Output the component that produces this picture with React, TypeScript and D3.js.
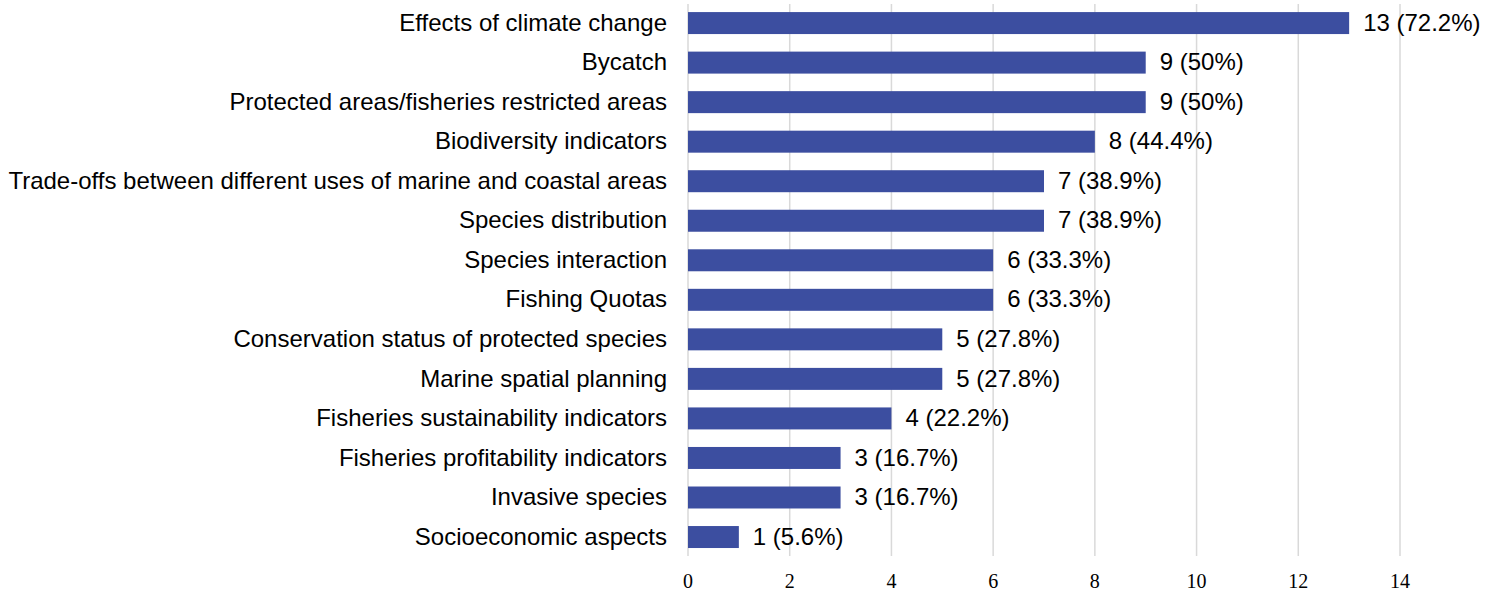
import React from "react";
import * as d3 from "d3";

const categories = [
  "Effects of climate change",
  "Bycatch",
  "Protected areas/fisheries restricted areas",
  "Biodiversity indicators",
  "Trade-offs between different uses of marine and coastal areas",
  "Species distribution",
  "Species interaction",
  "Fishing Quotas",
  "Conservation status of protected species",
  "Marine spatial planning",
  "Fisheries sustainability indicators",
  "Fisheries profitability indicators",
  "Invasive species",
  "Socioeconomic aspects",
];
const counts = [13, 9, 9, 8, 7, 7, 6, 6, 5, 5, 4, 3, 3, 1];
const percents = ["72.2%", "50%", "50%", "44.4%", "38.9%", "38.9%", "33.3%", "33.3%", "27.8%", "27.8%", "22.2%", "16.7%", "16.7%", "5.6%"];
const xTicks = [0, 2, 4, 6, 8, 10, 12, 14];

const W = 1498;
const H = 591;
const BAR_COLOR = "#3c4ea0";
const GRID_COLOR = "#d9d9d9";

export default function App() {
  const x = d3.scaleLinear().domain([0, 14]).range([688, 1400]);
  const y = d3
    .scaleBand<string>()
    .domain(categories)
    .range([3.3, 556.8])
    .paddingInner(0.444)
    .paddingOuter(0.222);
  const bw = y.bandwidth();
  const sans = "'Liberation Sans', Arial, sans-serif";
  const serif = "'Liberation Serif', 'Times New Roman', serif";

  return (
    <svg
      width={W}
      height={H}
      style={{ position: "absolute", left: 0, top: 0, background: "#fff" }}
    >
      <g>
        {xTicks.map((t) => (
          <line
            key={"g" + t}
            x1={x(t)}
            x2={x(t)}
            y1={4}
            y2={556}
            stroke={GRID_COLOR}
            strokeWidth={1.5}
          />
        ))}
      </g>
      <g>
        {categories.map((c, i) => (
          <rect
            key={c}
            x={x(0)}
            y={y(c)}
            width={x(counts[i]) - x(0)}
            height={bw}
            fill={BAR_COLOR}
          />
        ))}
      </g>
      <g fontFamily={sans} fontSize={24} fill="#000">
        {categories.map((c) => (
          <text
            key={"l" + c}
            x={667}
            y={(y(c) as number) + bw / 2}
            dy="0.32em"
            textAnchor="end"
          >
            {c}
          </text>
        ))}
        {categories.map((c, i) => (
          <text
            key={"v" + c}
            x={x(counts[i]) + 14}
            y={(y(c) as number) + bw / 2}
            dy="0.32em"
          >
            {`${counts[i]} (${percents[i]})`}
          </text>
        ))}
      </g>
      <g fontFamily={serif} fontSize={20} fill="#000">
        {xTicks.map((t) => (
          <text key={"t" + t} x={x(t)} y={588} textAnchor="middle">
            {t}
          </text>
        ))}
      </g>
    </svg>
  );
}
